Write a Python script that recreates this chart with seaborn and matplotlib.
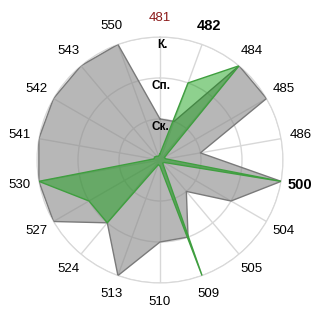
import numpy as np
import pandas as pd
import matplotlib
matplotlib.use("Agg")
import matplotlib.pyplot as plt
import seaborn as sns

categories = ["481", "482", "484", "485", "486", "500", "504", "505", "509",
              "510", "513", "524", "527", "530", "541", "542", "543", "550"]
gray_values = [1, 1, 3, 3, 1, 3, 2, 1, 2, 2, 3, 2, 3, 3, 3, 3, 3, 3]
green_values = [0.15, 2, 3, 0.12, 0.15, 3, 0.12, 0.1, 3, 0.15, 0.12, 2, 2, 3,
                0.15, 0.15, 0.12, 0.1]
r_ticks = [1, 2, 3]
r_labels = ["Ск.", "Сп.", "К."]
red_labels = ["481"]
bold_labels = ["482", "500"]

sns.set_style("white")
plt.rcParams["font.family"] = ["Liberation Sans", "DejaVu Sans"]

n = len(categories)
theta = np.linspace(0, 2 * np.pi, n, endpoint=False)
df = pd.DataFrame({"theta": np.append(theta, 2 * np.pi),
                   "gray": gray_values + gray_values[:1],
                   "green": green_values + green_values[:1]})

fig = plt.figure(figsize=(3.2, 3.2), dpi=100)
ax = fig.add_axes([37 / 320, 37 / 320, 246 / 320, 246 / 320], projection="polar")
ax.set_theta_zero_location("N")
ax.set_theta_direction(-1)
ax.set_axisbelow(True)

ax.fill(df["theta"], df["gray"], color="#888888", alpha=0.6, zorder=2, lw=0)
sns.lineplot(data=df, x="theta", y="gray", ax=ax, color="#7a7a7a", lw=1,
             sort=False, zorder=3)
ax.fill(df["theta"], df["green"], color="#069906", alpha=0.45, zorder=4, lw=0)
sns.lineplot(data=df, x="theta", y="green", ax=ax, color="#3f9f3f", lw=1,
             sort=False, zorder=5)

ax.set_ylim(0, 3)
ax.set_yticks(r_ticks)
ax.set_yticklabels([])
ax.set_xticks(theta)
ax.set_xticklabels(categories)
ax.set_xlabel("")
ax.set_ylabel("")
ax.grid(True, color="#d8d8d8", lw=1)
ax.spines["polar"].set_color("#d8d8d8")
ax.tick_params(axis="x", pad=3.5)

for lab in ax.get_xticklabels():
    t = lab.get_text()
    lab.set_fontsize(9.5)
    lab.set_color("black")
    if t in red_labels:
        lab.set_color("#8b1a1a")
    if t in bold_labels:
        lab.set_fontweight("bold")
        lab.set_fontsize(10.5)

for v, lab in zip(r_ticks, r_labels):
    ax.text(0.02, v - 0.2, lab, ha="center", va="center", fontsize=8.5,
            fontweight="bold", color="black", zorder=6)

fig.savefig("out.png", dpi=100)
